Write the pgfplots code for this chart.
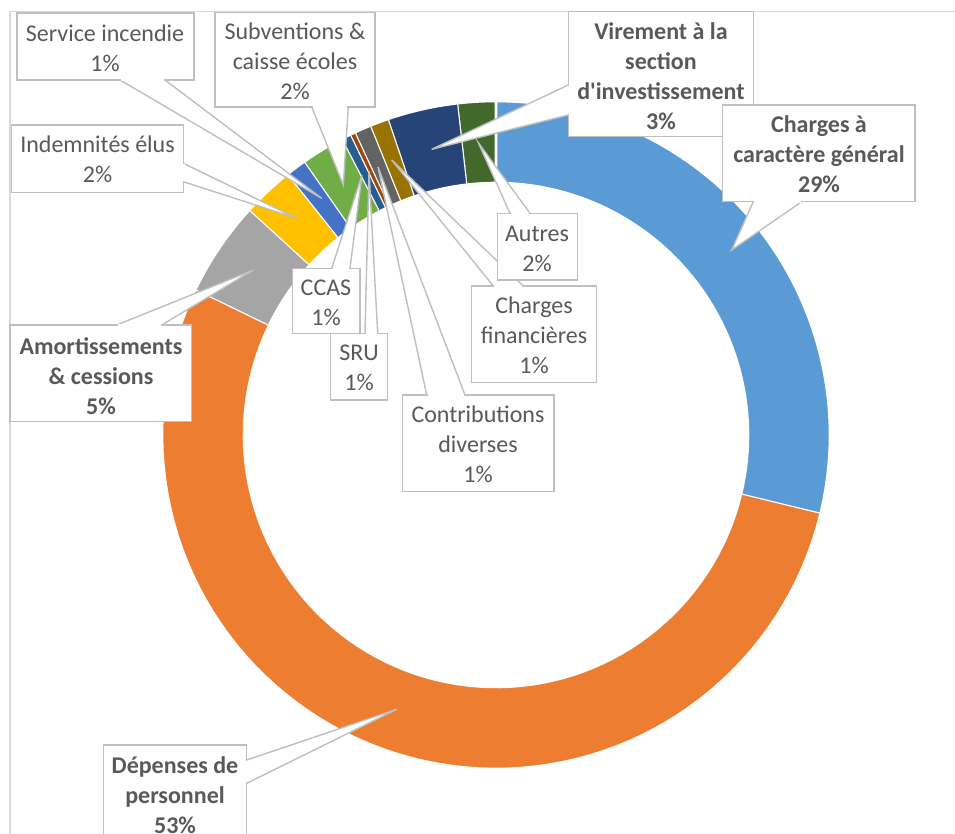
\documentclass[border=0pt]{standalone}
\usepackage{fontspec}
\setmainfont{Carlito}
\usepackage{pgfplots}
\pgfplotsset{compat=1.18}
\usepackage{pgfplotstable}

\definecolor{c1}{HTML}{5B9BD5}
\definecolor{c2}{HTML}{ED7D31}
\definecolor{c3}{HTML}{A5A5A5}
\definecolor{c4}{HTML}{FFC000}
\definecolor{c5}{HTML}{4472C4}
\definecolor{c6}{HTML}{70AD47}
\definecolor{c7}{HTML}{255E91}
\definecolor{c8}{HTML}{9E480E}
\definecolor{c9}{HTML}{636363}
\definecolor{c10}{HTML}{997300}
\definecolor{c11}{HTML}{264478}
\definecolor{c12}{HTML}{43682B}
\definecolor{txt}{HTML}{595959}
\definecolor{bord}{HTML}{BFBFBF}
\definecolor{frame}{HTML}{D9D9D9}

% slice values (percent), clockwise from 12 o'clock
\pgfplotstableread{
name value
generales 28.8
personnel 53.4
amortissements 4.6
indemnites 2.5
incendie 1.0
subventions 2.1
ccas 0.45
sru 0.25
contributions 0.8
financieres 0.9
virement 3.4
autres 1.8
}\donutdata

\newcommand\cur{90}
\newcommand\slice[2]{%
  \pgfmathsetmacro\angA{\cur}%
  \pgfmathsetmacro\angB{\cur-3.6*#2}%
  \edef\doslice{\noexpand\addplot[fill=#1, draw=white, line width=1.3pt, domain=0:2, samples=161, variable=\noexpand\t, forget plot]
    ({496+((\noexpand\t<=1.0001)?334:252)*cos(((\noexpand\t<=1.0001)?(\angA+(\angB-\angA)*\noexpand\t):(\angB-(\angB-\angA)*(\noexpand\t-1.0125)/0.9875)))},
     {435-((\noexpand\t<=1.0001)?334:252)*sin(((\noexpand\t<=1.0001)?(\angA+(\angB-\angA)*\noexpand\t):(\angB-(\angB-\angA)*(\noexpand\t-1.0125)/0.9875)))});}%
  \doslice
  \xdef\cur{\angB}}

% wedge fill: b1x b1y b2x b2y tipx tipy
\newcommand\wfill[6]{\fill[white] (axis cs:#1,#2) -- (axis cs:#5,#6) -- (axis cs:#3,#4) -- cycle;}
\newcommand\wline[6]{\draw[bord, line width=0.7pt, line join=miter] (axis cs:#1,#2) -- (axis cs:#5,#6) -- (axis cs:#3,#4);}
\newcommand\wbox[4]{\filldraw[fill=white, draw=bord, line width=0.7pt] (axis cs:#1,#2) rectangle (axis cs:#3,#4);}
\newcommand\wopen[4]{\draw[white, line width=1.2pt, shorten >=0.45pt, shorten <=0.45pt] (axis cs:#1,#2) -- (axis cs:#3,#4);}
\newcommand\lab[3]{\node[align=center, text=txt, font=\fontsize{12}{15}\selectfont, inner sep=0pt] at (axis cs:#1,#2) {#3};}
\newcommand\blab[3]{\node[align=center, text=txt, font=\fontsize{12}{15}\selectfont\bfseries, inner sep=0pt] at (axis cs:#1,#2) {#3};}

\begin{document}
\begin{tikzpicture}
\begin{axis}[
  width=477.5pt, height=417pt, scale only axis,
  xmin=0, xmax=955, ymin=0, ymax=834, y dir=reverse,
  axis lines=none, ticks=none, clip=true,
]
% frame of chart area
\draw[frame, line width=0.75pt] (axis cs:10,900) -- (axis cs:10,11.7) -- (axis cs:960,11.7);

% donut slices
\foreach \i/\col in {0/c1,1/c2,2/c3,3/c4,4/c5,5/c6,6/c7,7/c8,8/c9,9/c10,10/c11,11/c12}{%
  \pgfplotstablegetelem{\i}{value}\of\donutdata
  \edef\v{\pgfplotsretval}%
  \slice{\col}{\v}%
}

% wedge fills
\wfill{120}{80}{165}{80}{321.7}{198.3}
\wfill{311.7}{107}{348.3}{107}{343.3}{185}
\wfill{183.3}{163.3}{183.3}{181.7}{296.7}{218.3}
\wfill{116.7}{325}{161.7}{325}{253.3}{270}
\wfill{246.7}{760}{246.7}{783.3}{396.7}{709.3}
\wfill{568.3}{85}{568.3}{115}{431.7}{149.3}
\wfill{753.3}{201.7}{801.7}{201.7}{731.7}{250}
\wfill{493.3}{286}{523.3}{286}{391.7}{160}
\wfill{510}{213.3}{530}{213.3}{478.3}{142.7}
\wfill{426.7}{395}{465}{395}{378}{167}
\wfill{365}{333.3}{377.7}{333.3}{369}{171}
\wfill{331.7}{268.3}{350}{268.3}{362}{175}
% wedge lines
\wline{120}{80}{165}{80}{321.7}{198.3}
\wline{311.7}{107}{348.3}{107}{343.3}{185}
\wline{183.3}{163.3}{183.3}{181.7}{296.7}{218.3}
\wline{116.7}{325}{161.7}{325}{253.3}{270}
\wline{246.7}{760}{246.7}{783.3}{396.7}{709.3}
\wline{568.3}{85}{568.3}{115}{431.7}{149.3}
\wline{753.3}{201.7}{801.7}{201.7}{731.7}{250}
\wline{493.3}{286}{523.3}{286}{391.7}{160}
\wline{510}{213.3}{530}{213.3}{478.3}{142.7}
\wline{426.7}{395}{465}{395}{378}{167}
\wline{365}{333.3}{377.7}{333.3}{369}{171}
\wline{331.7}{268.3}{350}{268.3}{362}{175}
% boxes
\wbox{17}{13}{194}{80}
\wbox{215}{12.7}{375}{107}
\wbox{11.7}{125}{183.3}{192.7}
\wbox{10}{325}{191.7}{421.7}
\wbox{103.3}{745}{246.7}{850}
\wbox{568.3}{11.7}{753.3}{136.7}
\wbox{722.7}{105}{915}{201.7}
\wbox{471.7}{286}{596.7}{382.7}
\wbox{497.3}{213.3}{577.7}{280}
\wbox{402.7}{395}{554}{491.7}
\wbox{292.7}{268.3}{360}{333.3}
\wbox{330.7}{333.3}{387.3}{400}
% openings
\wopen{120}{80}{165}{80}
\wopen{311.7}{107}{348.3}{107}
\wopen{183.3}{163.3}{183.3}{181.7}
\wopen{116.7}{325}{161.7}{325}
\wopen{246.7}{760}{246.7}{783.3}
\wopen{568.3}{85}{568.3}{115}
\wopen{753.3}{201.7}{801.7}{201.7}
\wopen{493.3}{286}{523.3}{286}
\wopen{510}{213.3}{530}{213.3}
\wopen{426.7}{395}{465}{395}
\wopen{365}{333.3}{377.7}{333.3}
\wopen{331.7}{268.3}{350}{268.3}
% texts
\lab{105}{48}{Service incendie\\1\%}
\lab{295}{61}{Subventions \&\\caisse écoles\\2\%}
\lab{97.5}{159}{Indemnités élus\\2\%}
\blab{101}{376}{Amortissements\\\& cessions\\5\%}
\blab{175}{795}{Dépenses de\\personnel\\53\%}
\blab{661}{76}{Virement à la\\section\\d\textquotesingle investissement\\3\%}
\blab{819}{154}{Charges à\\caractère général\\29\%}
\lab{534}{335}{Charges\\financières\\1\%}
\lab{537}{249}{Autres\\2\%}
\lab{478}{444}{Contributions\\diverses\\1\%}
\lab{326}{303}{CCAS\\1\%}
\lab{359}{368}{SRU\\1\%}
\end{axis}
\pgfresetboundingbox
\path[use as bounding box] (current axis.south west) rectangle (current axis.north east);
\end{tikzpicture}
\end{document}
